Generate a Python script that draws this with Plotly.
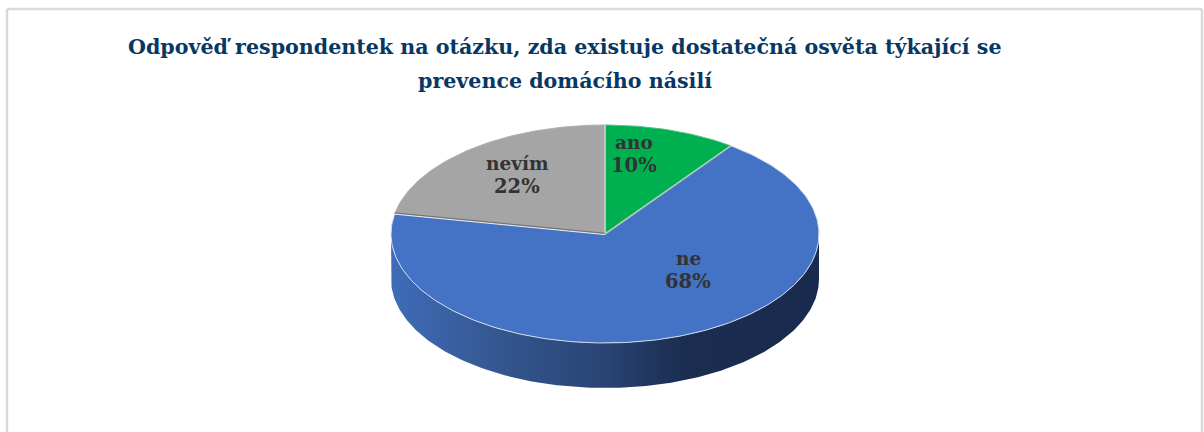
import numpy as np
import plotly.graph_objects as go

categories = ["ano", "ne", "nevím"]
values = [10, 68, 22]
colors = ["#00B050", "#4472C4", "#A5A5A5"]
title_lines = ["Odpověď respondentek na otázku, zda existuje dostatečná osvěta týkající se",
               "prevence domácího násilí"]

W, H = 1204, 432
CX, CY, RX, RY, DEPTH = 605, 234, 214, 109, 45
FONT = "DejaVu Serif"


def ell(deg):
    a = np.radians(deg)
    return CX + RX * np.sin(a), CY - RY * np.cos(a)


fig = go.Figure()

# side wall (front half of the disc)
t = np.linspace(90, 270, 181)
xs, ys = ell(t)
fig.add_trace(go.Scatter(
    x=np.r_[xs, xs[::-1]], y=np.r_[ys, ys[::-1] + DEPTH],
    mode="lines", fill="toself", line=dict(width=0), hoverinfo="skip", showlegend=False,
    fillgradient=dict(type="horizontal", start=CX - RX, stop=CX + RX,
                      colorscale=[[0, "#3F6CB9"], [0.25, "#34578F"], [0.5, "#294373"],
                                  [0.68, "#1B2E52"], [1, "#182B4E"]]),
))

# top surface
total = sum(values)
start = 0.0
edges = ["#4FC47F", "#D3DCEE", "#B0B0B0"]
bounds = []
for name, v, c, e in zip(categories, values, colors, edges):
    end = start + 360 * v / total
    a = np.linspace(start, end, max(int(v * 4), 8))
    ax, ay = ell(a)
    fig.add_trace(go.Scatter(
        x=np.r_[CX, ax, CX], y=np.r_[CY, ay, CY], mode="lines", fill="toself",
        fillcolor=c, line=dict(color=e, width=1), name=name,
        hovertemplate=name + ": %{text}<extra></extra>", text=[f"{v}%"] * (len(a) + 2),
        showlegend=False,
    ))
    bounds.append(end % 360)
    start = end

# seams between the slices
seam_styles = [("#A9CDB2", 1.6, 0), ("#E4E8F0", 1, 0.6), ("#C9CCC9", 1.6, 0)]
for b, (col, wid, off) in zip(bounds, seam_styles):
    bx, by = ell(b)
    fig.add_trace(go.Scatter(x=[CX, bx], y=[CY + off, by + off], mode="lines",
                             line=dict(color=col, width=wid), hoverinfo="skip", showlegend=False))
bx, by = ell(bounds[1])
fig.add_trace(go.Scatter(x=[CX, bx], y=[CY - 0.7, by - 0.7], mode="lines",
                         line=dict(color="#6E6E6E", width=1), hoverinfo="skip", showlegend=False))

label_pos = [(634, 142, 165), (688, 258, 281), (517, 163, 186)]
ann = []
for name, v, (x, y1, y2) in zip(categories, values, label_pos):
    ann.append(dict(x=x, y=y1, text=f"<b>{name}</b>", showarrow=False, xref="x", yref="y",
                    font=dict(family=FONT, size=18.5, color="#333333")))
    ann.append(dict(x=x, y=y2, text=f"<b>{v}%</b>", showarrow=False, xref="x", yref="y",
                    font=dict(family=FONT, size=19.5, color="#333333")))
for line, y in zip(title_lines, [47, 81]):
    ann.append(dict(x=565, y=y, text=f"<b>{line}</b>", showarrow=False, xref="x", yref="y",
                    font=dict(family=FONT, size=20.6, color="#073763")))

border = dict(type="line", xref="x", yref="y", line=dict(color="#D9D9D9", width=2.5))
shapes = [dict(border, x0=7, y0=9, x1=1202, y1=9),
          dict(border, x0=7, y0=9, x1=7, y1=432),
          dict(border, x0=1202, y0=9, x1=1202, y1=432)]

fig.update_layout(
    width=W, height=H, margin=dict(l=0, r=0, t=0, b=0), autosize=False,
    paper_bgcolor="white", plot_bgcolor="white", showlegend=False,
    xaxis=dict(range=[0, W], visible=False, fixedrange=True),
    yaxis=dict(range=[H, 0], visible=False, fixedrange=True),
    annotations=ann, shapes=shapes,
)
fig.write_html("out.html", config={"displayModeBar": False},
               post_script="document.body.style.margin='0';document.body.style.overflow='hidden';")
